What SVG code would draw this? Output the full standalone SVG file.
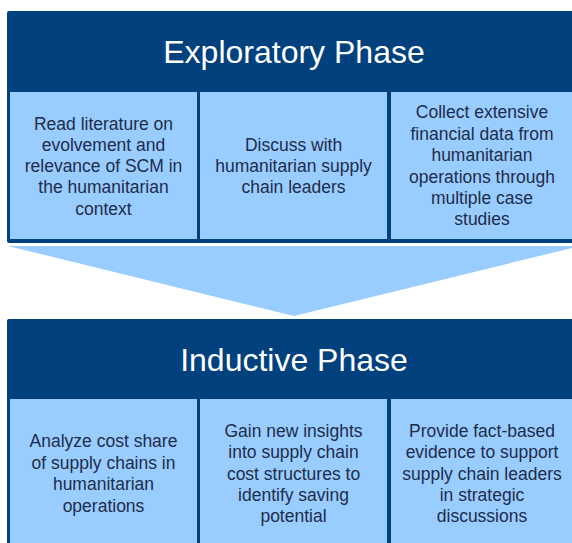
<svg xmlns="http://www.w3.org/2000/svg" width="572" height="543" viewBox="0 0 572 543">
<style>
.dark{fill:#00417e}
.light{fill:#99ccff}
.hdr{font-family:"Liberation Sans",Arial,sans-serif;font-size:32px;fill:#ffffff;text-anchor:middle}
.body{font-family:"Liberation Sans",Arial,sans-serif;font-size:17.5px;fill:#1e2d4a;text-anchor:middle}
</style>
<rect width="572" height="543" fill="#ffffff"/>
<g id="exploratory">
<rect class="dark" x="7" y="11" width="575" height="232" rx="2"/>
<text class="hdr" x="294" y="63">Exploratory Phase</text>
</g>
<g id="e1">
<rect class="light" x="10" y="92" width="187" height="147"/>
<text class="body" x="103.5" y="130">Read literature on</text>
<text class="body" x="103.5" y="151">evolvement and</text>
<text class="body" x="103.5" y="172">relevance of SCM in</text>
<text class="body" x="103.5" y="193">the humanitarian</text>
<text class="body" x="103.5" y="215">context</text>
</g>
<g id="e2">
<rect class="light" x="200" y="92" width="187" height="147"/>
<text class="body" x="293.5" y="151">Discuss with</text>
<text class="body" x="293.5" y="172">humanitarian supply</text>
<text class="body" x="293.5" y="193">chain leaders</text>
</g>
<g id="e3">
<rect class="light" x="391" y="92" width="190" height="147"/>
<text class="body" x="482" y="118">Collect extensive</text>
<text class="body" x="482" y="140">financial data from</text>
<text class="body" x="482" y="161">humanitarian</text>
<text class="body" x="482" y="183">operations through</text>
<text class="body" x="482" y="204">multiple case</text>
<text class="body" x="482" y="225">studies</text>
</g>
<g id="connectors">
<polygon class="light" points="8,246 580,246 294,316"/>
</g>
<g id="inductive">
<rect class="dark" x="7" y="319" width="575" height="240" rx="2"/>
<text class="hdr" x="294" y="371">Inductive Phase</text>
</g>
<g id="i1">
<rect class="light" x="10" y="399" width="187" height="160"/>
<text class="body" x="103.5" y="447">Analyze cost share</text>
<text class="body" x="103.5" y="469">of supply chains in</text>
<text class="body" x="103.5" y="490">humanitarian</text>
<text class="body" x="103.5" y="512">operations</text>
</g>
<g id="i2">
<rect class="light" x="200" y="399" width="187" height="160"/>
<text class="body" x="293.5" y="437">Gain new insights</text>
<text class="body" x="293.5" y="458">into supply chain</text>
<text class="body" x="293.5" y="480">cost structures to</text>
<text class="body" x="293.5" y="501">identify saving</text>
<text class="body" x="293.5" y="522">potential</text>
</g>
<g id="i3">
<rect class="light" x="391" y="399" width="190" height="160"/>
<text class="body" x="482" y="437">Provide fact-based</text>
<text class="body" x="482" y="458">evidence to support</text>
<text class="body" x="482" y="480">supply chain leaders</text>
<text class="body" x="482" y="501">in strategic</text>
<text class="body" x="482" y="522">discussions</text>
</g>
</svg>
